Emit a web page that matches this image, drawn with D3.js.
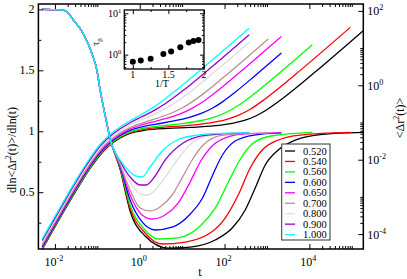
<!DOCTYPE html>
<html>
<head>
<meta charset="utf-8">
<script src="https://cdnjs.cloudflare.com/ajax/libs/d3/7.8.5/d3.min.js"></script>
<style>
body { margin: 0; background: #fff; }
svg { display: block; font-family: "Liberation Serif", "Times New Roman", serif; }
</style>
</head>
<body>
<script>
"use strict";
// temperatures (legend order)
var temps = ["0.520", "0.540", "0.560", "0.600", "0.650", "0.700", "0.800", "0.900", "1.000"];

// slope dln<dr2>/dln(t) : [log10 t, value]; the short-time part is the same for every T
var slopeEarly = [[-2.30, 2.0], [-2.0, 1.998], [-1.76, 1.99], [-1.57, 1.915], [-1.33, 1.80], [-1.13, 1.64],
  [-1.01, 1.50], [-0.94, 1.35], [-0.78, 1.07], [-0.70, 0.94]];
var slope520 = [[-0.464, 0.690], [-0.228, 0.346], [0.126, 0.141], [0.670, 0.042], [1.189, 0.050], [1.779, 0.108], [2.180, 0.206], [2.487, 0.354], [2.723, 0.534], [2.959, 0.723], [3.266, 0.846], [3.667, 0.928], [4.257, 0.973], [5.27, 0.990]];
var slope540 = [[-0.464, 0.699], [-0.228, 0.370], [0.126, 0.165], [0.528, 0.075], [1.071, 0.091], [1.661, 0.165], [2.015, 0.288], [2.322, 0.477], [2.605, 0.699], [2.888, 0.846], [3.266, 0.928], [3.785, 0.969], [4.965, 0.990]];
var slope560 = [[-0.464, 0.707], [-0.228, 0.395], [0.126, 0.190], [0.434, 0.116], [0.90, 0.125], [1.45, 0.231], [1.78, 0.370], [2.08, 0.575], [2.36, 0.764], [2.65, 0.895], [3.10, 0.961], [4.07, 0.990]];
var slope600 = [[-0.464, 0.715], [-0.228, 0.436], [0.056, 0.256], [0.363, 0.190], [0.78, 0.215], [1.17, 0.313], [1.48, 0.452], [1.72, 0.641], [1.95, 0.805], [2.25, 0.920], [2.70, 0.969], [3.34, 0.986]];
var slope650 = [[-0.464, 0.723], [-0.228, 0.477], [0.056, 0.313], [0.292, 0.280], [0.598, 0.313], [0.906, 0.411], [1.189, 0.584], [1.425, 0.748], [1.661, 0.863], [2.015, 0.945], [2.487, 0.978], [3.34, 0.986]];
var slope700 = [[-0.464, 0.731], [-0.228, 0.518], [0.009, 0.370], [0.245, 0.346], [0.481, 0.379], [0.764, 0.477], [1.000, 0.617], [1.236, 0.764], [1.496, 0.887], [1.968, 0.969], [3.03, 0.986]];
var slope800 = [[-0.464, 0.748], [-0.228, 0.584], [0.009, 0.485], [0.197, 0.477], [0.481, 0.567], [0.717, 0.682], [0.953, 0.797], [1.260, 0.912], [1.732, 0.969], [2.58, 0.986]];
var slope900 = [[-0.464, 0.756], [-0.228, 0.625], [0.009, 0.559], [0.150, 0.559], [0.363, 0.633], [0.598, 0.764], [1.023, 0.904], [1.590, 0.969], [2.58, 0.986]];
var slope1000 = [[-0.464, 0.764], [-0.228, 0.666], [-0.062, 0.629], [0.056, 0.625], [0.245, 0.707], [0.551, 0.846], [0.882, 0.928], [1.354, 0.969], [1.779, 0.981], [2.58, 0.986]];

// mean square displacement : [log10 t, log10 <dr2>]
var msd520 = [[-2.3, -4.409], [-2.0, -3.809], [-1.76, -3.330], [-1.57, -2.959], [-1.33, -2.513], [-1.13, -2.169], [-1.01, -1.981], [-0.94, -1.881], [-0.78, -1.687], [-0.70, -1.607], [-0.464, -1.415], [-0.228, -1.293], [0.126, -1.207], [0.670, -1.157], [1.189, -1.133], [1.779, -1.086], [2.180, -1.023], [2.487, -0.937], [2.723, -0.832], [2.959, -0.684], [3.266, -0.443], [3.667, -0.087], [4.257, 0.474], [5.27, 1.468]];
var msd540 = [[-2.3, -4.393], [-2.0, -3.793], [-1.76, -3.314], [-1.57, -2.943], [-1.33, -2.497], [-1.13, -2.153], [-1.01, -1.965], [-0.94, -1.865], [-0.78, -1.671], [-0.70, -1.591], [-0.464, -1.398], [-0.228, -1.272], [0.126, -1.177], [0.528, -1.129], [1.071, -1.084], [1.661, -1.008], [2.015, -0.928], [2.322, -0.811], [2.605, -0.645], [2.888, -0.426], [3.266, -0.091], [3.785, 0.401], [4.965, 1.557]];
var msd560 = [[-2.3, -4.377], [-2.0, -3.777], [-1.76, -3.298], [-1.57, -2.927], [-1.33, -2.481], [-1.13, -2.137], [-1.01, -1.949], [-0.94, -1.849], [-0.78, -1.655], [-0.70, -1.575], [-0.464, -1.381], [-0.228, -1.251], [0.126, -1.147], [0.434, -1.100], [0.90, -1.044], [1.45, -0.946], [1.78, -0.847], [2.08, -0.705], [2.36, -0.518], [2.65, -0.277], [3.10, 0.141], [4.07, 1.087]];
var msd600 = [[-2.3, -4.347], [-2.0, -3.747], [-1.76, -3.268], [-1.57, -2.897], [-1.33, -2.451], [-1.13, -2.107], [-1.01, -1.919], [-0.94, -1.819], [-0.78, -1.625], [-0.70, -1.545], [-0.464, -1.350], [-0.228, -1.214], [0.056, -1.116], [0.363, -1.048], [0.78, -0.964], [1.17, -0.861], [1.48, -0.742], [1.72, -0.611], [1.95, -0.445], [2.25, -0.186], [2.70, 0.239], [3.34, 0.865]];
var msd650 = [[-2.3, -4.312], [-2.0, -3.712], [-1.76, -3.233], [-1.57, -2.862], [-1.33, -2.416], [-1.13, -2.072], [-1.01, -1.884], [-0.94, -1.784], [-0.78, -1.590], [-0.70, -1.510], [-0.464, -1.314], [-0.228, -1.172], [0.056, -1.060], [0.292, -0.990], [0.598, -0.899], [0.906, -0.788], [1.189, -0.647], [1.425, -0.490], [1.661, -0.300], [2.015, 0.020], [2.487, 0.474], [3.34, 1.312]];
var msd700 = [[-2.3, -4.280], [-2.0, -3.680], [-1.76, -3.201], [-1.57, -2.830], [-1.33, -2.384], [-1.13, -2.040], [-1.01, -1.852], [-0.94, -1.752], [-0.78, -1.558], [-0.70, -1.478], [-0.464, -1.281], [-0.228, -1.134], [0.009, -1.029], [0.245, -0.945], [0.481, -0.859], [0.764, -0.738], [1.000, -0.609], [1.236, -0.446], [1.496, -0.231], [1.968, 0.207], [3.03, 1.245]];
var msd800 = [[-2.3, -4.222], [-2.0, -3.622], [-1.76, -3.143], [-1.57, -2.772], [-1.33, -2.326], [-1.13, -1.982], [-1.01, -1.794], [-0.94, -1.694], [-0.78, -1.500], [-0.70, -1.420], [-0.464, -1.221], [-0.228, -1.064], [0.009, -0.937], [0.197, -0.847], [0.481, -0.699], [0.717, -0.552], [0.953, -0.377], [1.260, -0.115], [1.732, 0.329], [2.58, 1.158]];
var msd900 = [[-2.3, -4.171], [-2.0, -3.571], [-1.76, -3.092], [-1.57, -2.721], [-1.33, -2.275], [-1.13, -1.931], [-1.01, -1.743], [-0.94, -1.643], [-0.78, -1.449], [-0.70, -1.369], [-0.464, -1.169], [-0.228, -1.006], [0.009, -0.866], [0.150, -0.787], [0.363, -0.660], [0.598, -0.496], [1.023, -0.142], [1.590, 0.389], [2.58, 1.357]];
var msd1000 = [[-2.3, -4.125], [-2.0, -3.525], [-1.76, -3.046], [-1.57, -2.675], [-1.33, -2.229], [-1.13, -1.885], [-1.01, -1.697], [-0.94, -1.597], [-0.78, -1.403], [-0.70, -1.323], [-0.464, -1.122], [-0.228, -0.953], [-0.062, -0.846], [0.056, -0.772], [0.245, -0.646], [0.551, -0.408], [0.882, -0.114], [1.354, 0.334], [1.779, 0.748], [2.58, 1.536]];

// inset: tau_beta against 1/T
var invT = [1.0, 1.111, 1.25, 1.429, 1.538, 1.667, 1.786, 1.852, 1.923];
var tauBeta = [0.67, 0.72, 0.80, 1.04, 1.20, 1.50, 1.97, 2.13, 2.25];

// tick labels
var leftTicks = [0.5, 1, 1.5, 2];
var leftMinor = [0.25, 0.75, 1.25, 1.75];
var xDecades = [-2, 0, 2, 4];
var rightDecades = [-4, -2, 0, 2];

var slopes = [slope520, slope540, slope560, slope600, slope650, slope700, slope800, slope900, slope1000];
var msds = [msd520, msd540, msd560, msd600, msd650, msd700, msd800, msd900, msd1000];
var colors = ["#000000", "#ff0000", "#00ff00", "#0000ff", "#ff00ff", "#bc8f8f", "#dcdcdc", "#9400d3", "#00ffff"];

var W = 407, H = 279;
var P = {left: 38.4, right: 363.3, top: 4, bottom: 249};

var svg = d3.select("body").append("svg").attr("width", W).attr("height", H);

var x = d3.scaleLog().domain([Math.pow(10, -2.39), Math.pow(10, 5.272)]).range([P.left, P.right]);
var yL = d3.scaleLinear().domain([0.034, 2.044]).range([P.bottom, P.top]);
var yR = d3.scaleLog().domain([Math.pow(10, -4.4), Math.pow(10, 2.185)]).range([P.bottom, P.top]);

svg.append("clipPath").attr("id", "clip").append("rect")
  .attr("x", P.left).attr("y", P.top)
  .attr("width", P.right - P.left).attr("height", P.bottom - P.top);

var slopeLine = d3.line()
  .x(function(d) { return x(Math.pow(10, d[0])); })
  .y(function(d) { return yL(d[1]); })
  .curve(d3.curveMonotoneX);
var msdLine = d3.line()
  .x(function(d) { return x(Math.pow(10, d[0])); })
  .y(function(d) { return yR(Math.pow(10, d[1])); })
  .curve(d3.curveMonotoneX);

var curves = svg.append("g").attr("clip-path", "url(#clip)").attr("fill", "none").attr("stroke-width", 1.3);
for (var i = 0; i < temps.length; i++) {
  curves.append("path").attr("d", slopeLine(slopeEarly.concat(slopes[i]))).attr("stroke", colors[i]);
  curves.append("path").attr("d", msdLine(msds[i])).attr("stroke", colors[i]);
}

// log minor ticks : j*10^k for j = 2..10 after each labelled decade
function minorLog(decades, scale) {
  var d = scale.domain(), out = [];
  decades.concat([decades[0] - 2]).forEach(function(k) {
    for (var j = 2; j <= 10; j++) {
      var v = j * Math.pow(10, k);
      if (v > d[0] && v < d[1]) { out.push(v); }
    }
  });
  return out;
}
var xMajor = xDecades.map(function(k) { return Math.pow(10, k); });
var rMajor = rightDecades.map(function(k) { return Math.pow(10, k); });

function tickAxis(axis, pos, vals, size) {
  var g = svg.append("g").attr("transform", pos)
    .call(axis.tickValues(vals).tickSize(size).tickSizeOuter(0).tickFormat(""));
  g.select(".domain").remove();
  g.selectAll("line").attr("stroke", "#000").attr("stroke-width", 1);
  return g;
}
tickAxis(d3.axisBottom(x), "translate(0," + P.bottom + ")", xMajor, -5);
tickAxis(d3.axisBottom(x), "translate(0," + P.bottom + ")", minorLog(xDecades, x), -3);
tickAxis(d3.axisTop(x), "translate(0," + P.top + ")", xMajor, -5);
tickAxis(d3.axisTop(x), "translate(0," + P.top + ")", minorLog(xDecades, x), -3);
tickAxis(d3.axisLeft(yL), "translate(" + P.left + ",0)", leftTicks, -5);
tickAxis(d3.axisLeft(yL), "translate(" + P.left + ",0)", leftMinor, -3);
tickAxis(d3.axisRight(yR), "translate(" + P.right + ",0)", rMajor, -5);
tickAxis(d3.axisRight(yR), "translate(" + P.right + ",0)", minorLog(rightDecades, yR), -3);

svg.append("rect")
  .attr("x", P.left).attr("y", P.top)
  .attr("width", P.right - P.left).attr("height", P.bottom - P.top)
  .attr("fill", "none").attr("stroke", "#000").attr("stroke-width", 1.5);

// tick labels
function powLabel(g, k, px, py, anchor, size) {
  var t = g.append("text").attr("x", px).attr("y", py).attr("text-anchor", anchor)
    .attr("font-size", size);
  t.append("tspan").text("10");
  t.append("tspan").attr("dy", -size * 0.42).attr("font-size", size * 0.68).text(k < 0 ? "-" + (-k) : String(k));
  return t;
}
var labels = svg.append("g").attr("fill", "#000");
xDecades.forEach(function(k) {
  powLabel(labels, k, x(Math.pow(10, k)) - 1, 266, "middle", 12);
});
rightDecades.forEach(function(k) {
  powLabel(labels, k, P.right + 4, yR(Math.pow(10, k)) + 4.5, "start", 12);
});
leftTicks.forEach(function(v) {
  labels.append("text").attr("x", P.left - 4).attr("y", yL(v) + 4).attr("text-anchor", "end")
    .attr("font-size", 12).text(d3.format("")(v));
});

labels.append("text").attr("x", 200).attr("y", 276).attr("text-anchor", "middle").attr("font-size", 12).text("t");

var ylab = labels.append("text").attr("transform", "translate(15.5,150) rotate(-90)")
  .attr("text-anchor", "middle").attr("font-size", 12);
ylab.append("tspan").text("dln<\u0394r");
ylab.append("tspan").attr("dy", -5).attr("font-size", 8).text("2");
ylab.append("tspan").attr("dy", 5).text("(t)>/dln(t)");

var rlab = labels.append("text").attr("transform", "translate(403.5,118) rotate(-90)")
  .attr("text-anchor", "middle").attr("font-size", 12);
rlab.append("tspan").text("<\u0394r");
rlab.append("tspan").attr("dy", -5).attr("font-size", 8).text("2");
rlab.append("tspan").attr("dy", 5).text("(t)>");

// legend
var leg = svg.append("g");
leg.append("rect").attr("x", 281.7).attr("y", 144).attr("width", 48.3).attr("height", 96)
  .attr("fill", "#fff").attr("stroke", "#333").attr("stroke-width", 1);
temps.forEach(function(t, i) {
  var yy = 151 + i * 10.45;
  leg.append("line").attr("x1", 285).attr("x2", 295).attr("y1", yy).attr("y2", yy)
    .attr("stroke", colors[i]).attr("stroke-width", 1.3);
  leg.append("text").attr("x", 303).attr("y", yy + 3.5).attr("font-size", 10.5).text(t);
});

// inset
var I = {left: 124.3, right: 204, top: 10, bottom: 69};
var ix = d3.scaleLinear().domain([0.88, 2]).range([I.left, I.right]);
var iy = d3.scaleLog().domain([0.45, 12]).range([I.bottom, I.top]);
svg.append("rect").attr("x", I.left).attr("y", I.top)
  .attr("width", I.right - I.left).attr("height", I.bottom - I.top).attr("fill", "#fff");
var ixMajor = [1, 1.5, 2], ixMinor = [1.25, 1.75];
var iyMajor = [1, 10];
var iyMinor = [0.5, 0.6, 0.7, 0.8, 0.9, 2, 3, 4, 5, 6, 7, 8, 9];
tickAxis(d3.axisBottom(ix), "translate(0," + I.bottom + ")", ixMajor, -4);
tickAxis(d3.axisBottom(ix), "translate(0," + I.bottom + ")", ixMinor, -2);
tickAxis(d3.axisTop(ix), "translate(0," + I.top + ")", ixMajor, -4);
tickAxis(d3.axisTop(ix), "translate(0," + I.top + ")", ixMinor, -2);
tickAxis(d3.axisLeft(iy), "translate(" + I.left + ",0)", iyMajor, -4);
tickAxis(d3.axisLeft(iy), "translate(" + I.left + ",0)", iyMinor, -2);
tickAxis(d3.axisRight(iy), "translate(" + I.right + ",0)", iyMajor, -4);
tickAxis(d3.axisRight(iy), "translate(" + I.right + ",0)", iyMinor, -2);
svg.append("rect").attr("x", I.left).attr("y", I.top)
  .attr("width", I.right - I.left).attr("height", I.bottom - I.top)
  .attr("fill", "none").attr("stroke", "#000").attr("stroke-width", 1.3);

svg.append("g").selectAll("circle").data(invT).enter().append("circle")
  .attr("cx", function(d) { return ix(d); })
  .attr("cy", function(d, i) { return iy(tauBeta[i]); })
  .attr("r", 3).attr("fill", "#000");

var il = svg.append("g");
ixMajor.forEach(function(v) {
  il.append("text").attr("x", ix(v)).attr("y", 78).attr("text-anchor", "middle")
    .attr("font-size", 10).text(String(v));
});
[0, 1].forEach(function(k) {
  powLabel(il, k, I.left - 3, iy(Math.pow(10, k)) + 3.5, "end", 10);
});
il.append("text").attr("x", 162).attr("y", 87).attr("text-anchor", "middle").attr("font-size", 10).text("1/T");
var tl = il.append("text").attr("transform", "translate(99,42) rotate(-90)")
  .attr("text-anchor", "middle").attr("font-size", 10);
tl.append("tspan").text("\u03c4");
tl.append("tspan").attr("dy", 3).attr("font-size", 7).text("\u03b2");
</script>
</body>
</html>
